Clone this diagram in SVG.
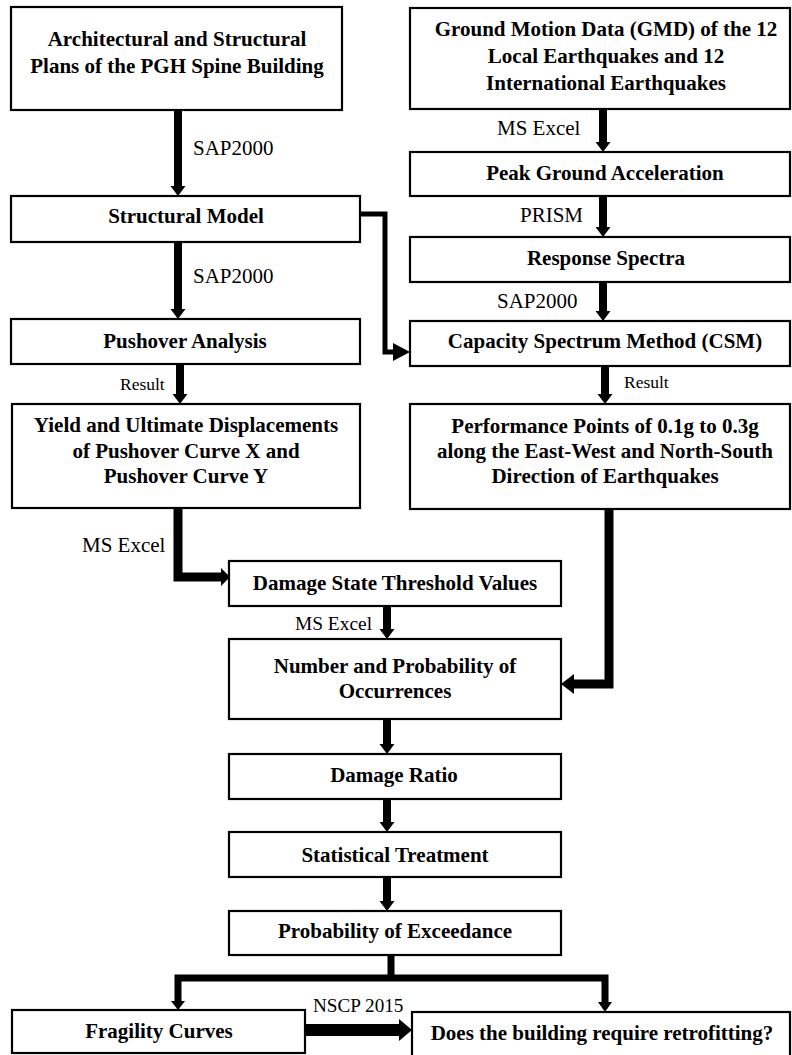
<svg xmlns="http://www.w3.org/2000/svg" width="792" height="1055" viewBox="0 0 792 1055">
<style>
.box{fill:#fff;stroke:#000;stroke-width:2.2}
.t{font-family:'Liberation Serif','Times New Roman',serif;font-weight:bold;font-size:21px;text-anchor:middle;fill:#000}
.l{font-family:'Liberation Serif','Times New Roman',serif;font-size:21px;fill:#000}
.s{font-family:'Liberation Serif','Times New Roman',serif;font-size:17.5px;fill:#000}
.sh{fill:none;stroke:#000;stroke-width:8;stroke-linejoin:miter}
.hd{fill:#000}
</style>
<rect width="792" height="1055" fill="#fff"/>
<g id="connectors">
<path class="sh" d="M178,110V187M178,242V310M180,364V395M603,109V143M603,196V228M603,282V312M605,366V395M387,606V630M387,719V745M387,799V823M387,877V902"/>
<polygon class="hd" points="170.5,186 185.5,186 178,196"/>
<polygon class="hd" points="170.5,309 185.5,309 178,319"/>
<polygon class="hd" points="172.5,394 187.5,394 180,404"/>
<polygon class="hd" points="595.5,142 610.5,142 603,152"/>
<polygon class="hd" points="595.5,227 610.5,227 603,237"/>
<polygon class="hd" points="595.5,311 610.5,311 603,321"/>
<polygon class="hd" points="597.5,394 612.5,394 605,404"/>
<polygon class="hd" points="379.5,629 394.5,629 387,639"/>
<polygon class="hd" points="379.5,744 394.5,744 387,754"/>
<polygon class="hd" points="379.5,822 394.5,822 387,832"/>
<polygon class="hd" points="379.5,901 394.5,901 387,911"/>
<path class="sh" style="stroke-width:5" d="M360,214H385V352H395"/>
<polygon class="hd" points="393,343 410,352 393,361"/>
<path class="sh" style="stroke-width:9" d="M178,508V577H222"/>
<polygon class="hd" points="221,568 230,577 221,586"/>
<path class="sh" style="stroke-width:9" d="M609,509V684H572"/>
<polygon class="hd" points="574,674 561,684 574,694"/>
<path class="sh" style="stroke-width:7" d="M391,955V978M178,1002V978H605V1002"/>
<polygon class="hd" points="171,1001 185,1001 178,1010"/>
<polygon class="hd" points="598,1002 612,1002 605,1012"/>
<path class="sh" style="stroke-width:12" d="M305,1030H400"/>
<polygon class="hd" points="399,1019 412,1030 399,1041"/>
</g>
<g id="labels">
<text class="l" x="193" y="155">SAP2000</text>
<text class="l" x="193" y="283">SAP2000</text>
<text class="s" x="120" y="390">Result</text>
<text class="l" x="497" y="135">MS Excel</text>
<text class="l" x="520" y="222">PRISM</text>
<text class="l" x="497" y="308">SAP2000</text>
<text class="s" x="624" y="388">Result</text>
<text class="l" x="82" y="552">MS Excel</text>
<text class="l" x="295" y="630" style="font-size:19.4px">MS Excel</text>
<text class="l" x="313" y="1012" style="font-size:19.2px">NSCP 2015</text>
</g>
<g id="n1"><rect class="box" x="11" y="7" width="331" height="103"/><text class="t" x="177" y="46">Architectural and Structural</text><text class="t" x="177" y="73">Plans of the PGH Spine Building</text></g>
<g id="n2"><rect class="box" x="11" y="196" width="349" height="46"/><text class="t" x="186" y="223">Structural Model</text></g>
<g id="n3"><rect class="box" x="11" y="319" width="349" height="45"/><text class="t" x="185" y="348">Pushover Analysis</text></g>
<g id="n4"><rect class="box" x="12" y="404" width="348" height="104"/><text class="t" x="186" y="432">Yield and Ultimate Displacements</text><text class="t" x="186" y="458">of Pushover Curve X and</text><text class="t" x="186" y="483">Pushover Curve Y</text></g>
<g id="n5"><rect class="box" x="410" y="8" width="380" height="101"/><text class="t" x="606" y="36">Ground Motion Data (GMD) of the 12</text><text class="t" x="606" y="63">Local Earthquakes and 12</text><text class="t" x="606" y="90">International Earthquakes</text></g>
<g id="n6"><rect class="box" x="410" y="152" width="380" height="44"/><text class="t" x="605" y="180">Peak Ground Acceleration</text></g>
<g id="n7"><rect class="box" x="410" y="237" width="380" height="45"/><text class="t" x="606" y="265">Response Spectra</text></g>
<g id="n8"><rect class="box" x="410" y="321" width="380" height="45"/><text class="t" x="605" y="348">Capacity Spectrum Method (CSM)</text></g>
<g id="n9"><rect class="box" x="410" y="404" width="380" height="105"/><text class="t" x="605" y="433">Performance Points of 0.1g to 0.3g</text><text class="t" x="605" y="458">along the East-West and North-South</text><text class="t" x="605" y="483">Direction of Earthquakes</text></g>
<g id="n10"><rect class="box" x="229" y="561" width="332" height="45"/><text class="t" x="395" y="590">Damage State Threshold Values</text></g>
<g id="n11"><rect class="box" x="229" y="639" width="332" height="80"/><text class="t" x="395" y="673">Number and Probability of</text><text class="t" x="395" y="698">Occurrences</text></g>
<g id="n12"><rect class="box" x="229" y="754" width="332" height="45"/><text class="t" x="394" y="782">Damage Ratio</text></g>
<g id="n13"><rect class="box" x="229" y="832" width="332" height="45"/><text class="t" x="395" y="862">Statistical Treatment</text></g>
<g id="n14"><rect class="box" x="229" y="911" width="332" height="44"/><text class="t" x="395" y="938">Probability of Exceedance</text></g>
<g id="n15"><rect class="box" x="12" y="1010" width="293" height="43"/><text class="t" x="159" y="1038">Fragility Curves</text></g>
<g id="n16"><rect class="box" x="412" y="1012" width="378" height="50"/><text class="t" x="602" y="1040">Does the building require retrofitting?</text></g>
</svg>
